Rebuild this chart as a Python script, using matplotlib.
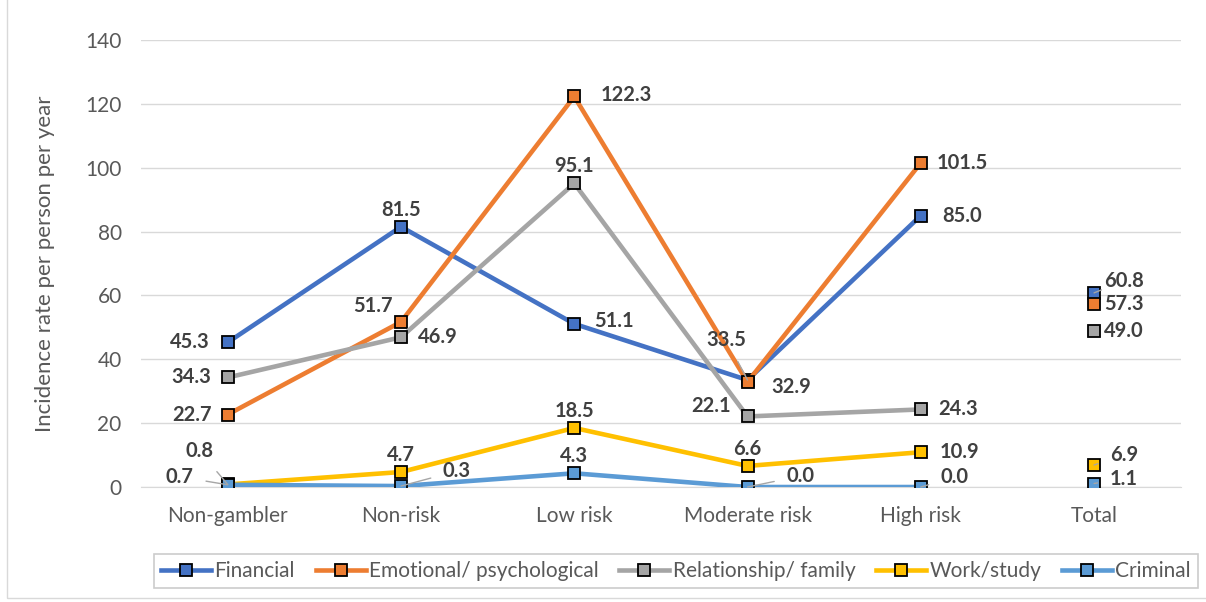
import matplotlib.pyplot as plt
from matplotlib.patches import Rectangle

plt.rcParams['font.family'] = ['Lato', 'DejaVu Sans']

# categories and values
categories = ['Non-gambler', 'Non-risk', 'Low risk', 'Moderate risk', 'High risk', 'Total']
series_names = ['Financial', 'Emotional/ psychological', 'Relationship/ family', 'Work/study', 'Criminal']
financial = [45.3, 81.5, 51.1, 33.5, 85.0, 60.8]
emotional = [22.7, 51.7, 122.3, 32.9, 101.5, 57.3]
relationship = [34.3, 46.9, 95.1, 22.1, 24.3, 49.0]
work_study = [0.8, 4.7, 18.5, 6.6, 10.9, 6.9]
criminal = [0.7, 0.3, 4.3, 0.0, 0.0, 1.1]
y_ticks = [0, 20, 40, 60, 80, 100, 120, 140]

colors = ['#4472C4', '#ED7D31', '#A5A5A5', '#FFC000', '#5B9BD5']
all_series = [financial, emotional, relationship, work_study, criminal]

# label offsets in pixels (dx, dy, leader line)
label_offsets = [
    [(-38, 0, False), (0, 17, False), (40, 3, False), (-21, 40, True), (41, 0, False), (30, 12, True)],
    [(-36, 0, False), (-28, 16, False), (52, 1, False), (44, -5, False), (42, 0, False), (30, 0, False)],
    [(-36, 0, False), (37, 0, False), (0, 17, False), (-36, 10, False), (37, 0, False), (30, 0, False)],
    [(-28, 33, True), (0, 17, False), (0, 17, False), (0, 17, False), (39, 0, False), (30, 10, True)],
    [(-48, 8, True), (56, 15, True), (0, 17, False), (53, 11, True), (34, 10, True), (30, 5, True)],
]

fig = plt.figure(figsize=(12.06, 6.02), dpi=100)
ax = fig.add_axes([0.117, 0.191, 0.862, 0.7426])

x = list(range(len(categories)))
for name, vals, col, offs in zip(series_names, all_series, colors, label_offsets):
    ax.plot(x[:5], vals[:5], color=col, lw=3.3, marker='s', ms=8.5,
            mfc=col, mec='black', mew=1.3, label=name, zorder=3, solid_joinstyle='miter')
    ax.plot(x[5:], vals[5:], ls='none', marker='s', ms=8.5, mfc=col, mec='black', mew=1.3, zorder=3)
    for xi, v, (dx, dy, leader) in zip(x, vals, offs):
        arrow = None
        if leader:
            arrow = dict(arrowstyle='-', color='#A6A6A6', lw=1, shrinkA=7, shrinkB=0)
        ax.annotate(f'{v:.1f}', (xi, v), xytext=(dx, dy), textcoords='offset pixels',
                    ha='center', va='center', fontsize=14.5, fontweight='bold', color='#404040',
                    arrowprops=arrow, zorder=4)

ax.set_xlim(-0.5, 5.5)
ax.set_ylim(0, 140)
ax.set_yticks(y_ticks)
ax.set_xticks(x)
ax.set_xticklabels(categories)
ax.grid(axis='y', color='#D9D9D9', lw=1)
ax.set_axisbelow(True)
for s in ['top', 'right', 'left']:
    ax.spines[s].set_visible(False)
ax.spines['bottom'].set_color('#D9D9D9')
ax.tick_params(axis='both', length=0, labelsize=15, colors='#595959', pad=14)
ax.tick_params(axis='x', pad=14)
ax.set_ylabel('Incidence rate per person per year', fontsize=16, color='#595959', labelpad=22)

leg = fig.legend(loc='center', bbox_to_anchor=(0.5605, 0.0515), ncol=5, fontsize=15,
                 frameon=True, fancybox=False, edgecolor='#BFBFBF', handlelength=2.4,
                 columnspacing=1.0, handletextpad=0.15, borderpad=0.35)
leg.get_frame().set_linewidth(1.2)
for t in leg.get_texts():
    t.set_color('#595959')

fig.patches.append(Rectangle((0.006, 0.006), 1.2, 1.2, transform=fig.transFigure,
                             fill=False, edgecolor='#D9D9D9', lw=1))

fig.savefig('out.png', dpi=100)
